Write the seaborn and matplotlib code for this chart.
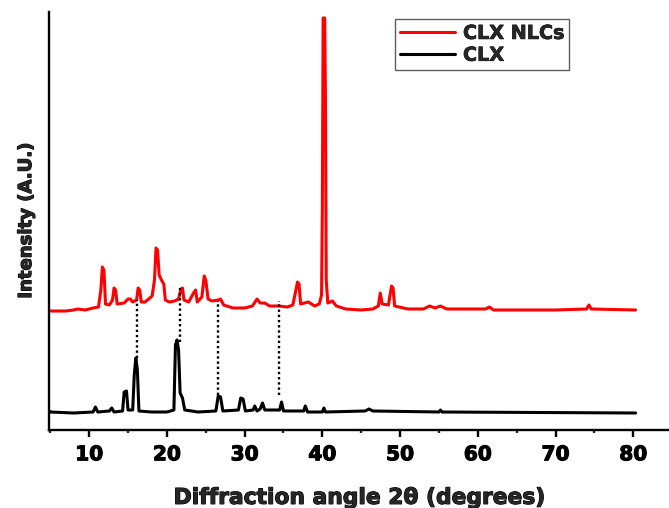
import matplotlib
matplotlib.use("Agg")
import matplotlib.pyplot as plt
import matplotlib.patheffects as pe
from matplotlib.ticker import MultipleLocator
import seaborn as sns
import pandas as pd

# ---- data (2theta in degrees, intensity in arbitrary units) ----
nlc_two_theta = [5.0, 7.0, 8.0, 8.5, 9.5, 10.5, 11.2, 11.5, 11.7, 11.9, 12.1, 12.6, 13.0, 13.2, 13.4, 13.6,
                 14.5, 15.0, 15.3, 15.6, 16.1, 16.3, 16.5, 16.7, 17.2, 17.8, 18.1, 18.4, 18.6, 18.8, 19.0,
                 19.3, 19.6, 19.8, 20.3, 21.0, 21.5, 21.8, 22.0, 22.2, 22.8, 23.5, 23.7, 23.9, 24.5, 24.8,
                 25.0, 25.3, 25.8, 26.6, 26.9, 27.3, 28.5, 30.0, 31.0, 31.6, 32.0, 32.6, 33.2, 34.4, 35.5,
                 36.2, 36.6, 36.8, 37.0, 37.2, 38.2, 39.0, 39.6, 39.9, 40.0, 40.1, 40.3, 40.4, 40.5, 40.7,
                 41.3, 41.8, 43.0, 45.0, 46.5, 47.2, 47.45, 47.7, 48.5, 48.9, 49.1, 49.3, 51.0, 53.0, 53.8,
                 54.5, 55.2, 56.0, 61.0, 61.5, 62.0, 70.0, 74.0, 74.3, 74.6, 80.3]
nlc_intensity = [119, 119, 120, 121, 120, 122, 123, 140, 163, 160, 126, 125, 130, 142, 140, 126,
                 127, 131, 131, 128, 130, 142, 140, 128, 128, 132, 134, 150, 182, 180, 155,
                 150, 146, 130, 128, 129, 131, 141, 142, 130, 128, 138, 140, 128, 133, 154,
                 150, 131, 129, 130, 131, 125, 122, 122, 124, 131, 127, 127, 124, 124, 123,
                 125, 140, 148, 146, 126, 128, 124, 126, 135, 223, 412, 412, 332, 150, 127,
                 129, 124, 121, 120, 121, 124, 137, 126, 125, 144, 142, 124, 121, 121, 124,
                 122, 124, 121, 121, 123, 120, 120, 121, 125, 121, 120]

clx_two_theta = [4.85, 5.0, 8.0, 10.5, 10.8, 11.1, 12.6, 12.9, 13.2, 14.3, 14.5, 14.8, 15.0, 15.6, 15.8,
                 16.0, 16.2, 16.4, 18.0, 20.0, 20.9, 21.1, 21.3, 21.5, 21.7, 22.0, 22.3, 24.0, 26.3, 26.6,
                 26.9, 27.2, 29.2, 29.5, 29.8, 30.1, 31.1, 31.3, 31.6, 32.0, 32.3, 32.6, 34.5, 34.75, 35.0,
                 37.6, 37.8, 38.1, 40.0, 40.2, 40.4, 45.5, 46.0, 46.5, 55.0, 55.2, 55.4, 80.3]
clx_intensity = [19, 18, 17, 18, 23, 18, 19, 22, 18, 19, 38, 39, 20, 20, 55,
                 72, 60, 19, 18, 18, 20, 85, 90, 80, 37, 32, 20, 18, 19, 34,
                 33, 19, 20, 32, 31, 19, 20, 24, 19, 21, 27, 20, 20, 28, 19,
                 19, 24, 18, 18, 22, 18, 19, 21, 19, 18, 20, 18, 17]

guide_two_theta = [16.1, 21.7, 26.6, 34.4]
guide_low = [72, 88, 35, 35]
guide_high = [130, 142, 129, 129]

series_names = ["CLX NLCs", "CLX"]
series_colors = ["#ff0000", "#000000"]
x_ticks = [10, 20, 30, 40, 50, 60, 70, 80]

# ---- figure ----
sns.set_style("ticks")
plt.rcParams["font.family"] = ["DejaVu Sans"]

fig = plt.figure(figsize=(6.69, 5.08), dpi=100)
ax = fig.add_axes([49 / 669, 78 / 508, 620 / 669, 418 / 508])

df = pd.concat([
    pd.DataFrame({"two_theta": nlc_two_theta, "intensity": nlc_intensity, "sample": series_names[0]}),
    pd.DataFrame({"two_theta": clx_two_theta, "intensity": clx_intensity, "sample": series_names[1]}),
])

sns.lineplot(data=df, x="two_theta", y="intensity", hue="sample",
             palette=dict(zip(series_names, series_colors)), estimator=None,
             sort=False, linewidth=2.2, ax=ax)

for xg, lo, hi in zip(guide_two_theta, guide_low, guide_high):
    ax.plot([xg, xg], [lo, hi], linestyle=(0, (1, 1.2)), color="black", linewidth=1.7)

ax.set_xlim(4.83, 84.6)
ax.set_ylim(0, 418)
ax.set_xticks(x_ticks)
ax.xaxis.set_minor_locator(MultipleLocator(5))
ax.set_yticks([])

for s in ["top", "right"]:
    ax.spines[s].set_visible(False)
for s in ["left", "bottom"]:
    ax.spines[s].set_linewidth(1.7)
    ax.spines[s].set_color("black")

ax.tick_params(axis="x", which="major", direction="out", length=5, width=1.7,
               labelsize=14.5, pad=6, colors="black")
ax.tick_params(axis="x", which="minor", direction="out", length=2.5, width=1.7)

stroke = [pe.withStroke(linewidth=0.8, foreground="black")]
for lab in ax.get_xticklabels():
    lab.set_fontweight("bold")
    lab.set_path_effects(stroke)

ax.set_xlabel("Diffraction angle 2θ (degrees)", fontsize=15.7, fontweight="bold",
              labelpad=17, path_effects=stroke)
ax.set_ylabel("Intensity (A.U.)", fontsize=13, fontweight="bold",
              labelpad=10, path_effects=stroke)

leg = ax.legend(loc="upper left", bbox_to_anchor=(0.558, 0.983), borderaxespad=0,
                frameon=True, fancybox=False, handlelength=2.9, handletextpad=0.4,
                borderpad=0.25, labelspacing=0.15, prop={"weight": "bold", "size": 13.8})
leg.get_frame().set_edgecolor("#333333")
leg.get_frame().set_linewidth(1.0)
for t in leg.get_texts():
    t.set_path_effects([pe.withStroke(linewidth=0.5, foreground="black")])
for h in leg.get_lines():
    h.set_linewidth(2.2)

fig.savefig("out.png", dpi=100)
